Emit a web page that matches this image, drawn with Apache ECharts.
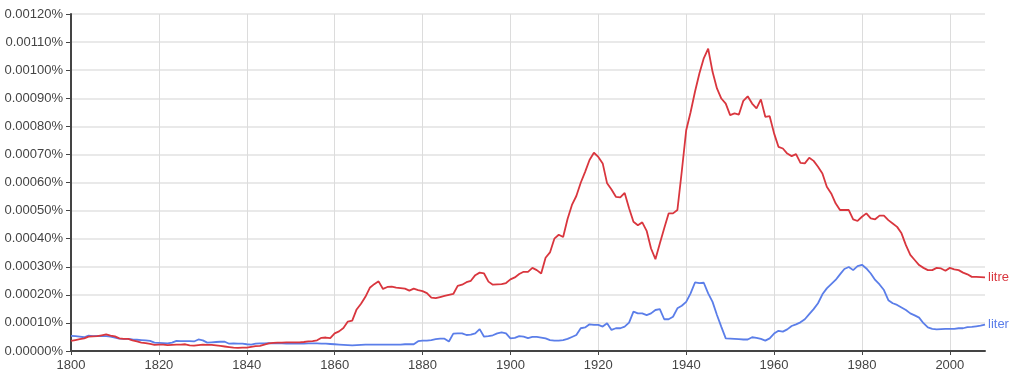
<!DOCTYPE html>
<html>
<head>
<meta charset="utf-8">
<script src="https://cdn.jsdelivr.net/npm/echarts@6/dist/echarts.min.js"></script>
<style>
html,body{margin:0;padding:0;background:#fff;}
#chart{width:1024px;height:376px;}
</style>
</head>
<body>
<div id="chart"></div>
<script>
// Years 1800..2008, values in units of 0.00001 %
const startYear = 1800;
const endYear = 2008;
const seriesNames = ["litre", "liter"];
const litre = [
  3.6, 3.9, 4.2, 4.5, 5.1, 5.2, 5.3, 5.6, 5.9, 5.5,
  5.2, 4.5, 4.3, 4.3, 3.8, 3.4, 3.0, 2.8, 2.5, 2.2,
  2.3, 2.3, 2.1, 2.2, 2.3, 2.3, 2.4, 2.0, 1.9, 2.1,
  2.3, 2.2, 2.2, 2.0, 1.8, 1.6, 1.4, 1.2, 1.1, 1.2,
  1.2, 1.5, 1.7, 1.8, 2.3, 2.7, 2.9, 3.0, 3.0, 3.1,
  3.1, 3.1, 3.1, 3.2, 3.4, 3.5, 3.8, 4.7, 4.8, 4.6,
  6.3, 7.0, 8.2, 10.5, 10.8, 14.8, 16.8, 19.3, 22.5, 23.8,
  24.8, 22.1, 22.8, 22.9, 22.6, 22.4, 22.2, 21.5, 22.2, 21.7,
  21.3, 20.6, 19.0, 18.8, 19.2, 19.6, 20.0, 20.3, 23.2, 23.6,
  24.5, 25.0, 27.0, 27.9, 27.6, 24.7, 23.6, 23.7, 23.8, 24.2,
  25.5, 26.2, 27.4, 28.2, 28.2, 29.6, 28.8, 27.6, 33.2, 35.1,
  40.0, 41.4, 40.6, 47.0, 52.0, 55.2, 59.9, 63.8, 68.0, 70.6,
  69.1, 66.8, 59.7, 57.5, 54.9, 54.7, 56.3, 50.8, 46.0, 44.8,
  45.8, 42.8, 36.5, 32.7, 38.3, 43.7, 49.0, 49.0, 50.2, 64.0,
  78.6, 85.0, 92.3, 98.8, 104.2, 107.7, 99.4, 93.5, 89.9, 88.1,
  84.0, 84.6, 84.2, 89.1, 90.7, 88.1, 86.4, 89.6, 83.4, 83.6,
  77.5, 72.7, 72.1, 70.3, 69.4, 70.1, 67.0, 66.8, 68.8, 67.7,
  65.6, 63.2, 58.5, 56.1, 52.6, 50.2, 50.2, 50.2, 46.9, 46.3,
  47.8, 49.0, 47.2, 46.9, 48.2, 48.2, 46.6, 45.4, 44.2, 41.9,
  37.7, 34.2, 32.4, 30.6, 29.6, 28.8, 28.8, 29.6, 29.4, 28.6,
  29.6, 29.1, 28.8, 27.9, 27.3, 26.4, 26.4, 26.3, 26.2
];
const liter = [
  5.4, 5.3, 5.1, 4.9, 5.5, 5.3, 5.4, 5.3, 5.3, 5.1,
  4.8, 4.4, 4.3, 4.3, 4.1, 4.0, 3.9, 3.8, 3.6, 3.0,
  2.9, 2.8, 2.7, 3.0, 3.6, 3.5, 3.5, 3.5, 3.4, 4.1,
  3.8, 3.0, 3.1, 3.2, 3.3, 3.3, 2.6, 2.7, 2.6, 2.6,
  2.4, 2.3, 2.6, 2.7, 2.7, 2.8, 2.7, 2.7, 2.7, 2.6,
  2.7, 2.6, 2.6, 2.6, 2.7, 2.7, 2.7, 2.6, 2.6, 2.5,
  2.4, 2.3, 2.2, 2.1, 2.0, 2.1, 2.2, 2.3, 2.3, 2.3,
  2.3, 2.3, 2.3, 2.3, 2.3, 2.3, 2.4, 2.4, 2.4, 3.5,
  3.7, 3.7, 3.9, 4.2, 4.4, 4.4, 3.4, 6.2, 6.3, 6.3,
  5.7, 5.8, 6.3, 7.8, 5.1, 5.3, 5.6, 6.3, 6.6, 6.3,
  4.5, 4.7, 5.3, 5.1, 4.6, 5.0, 5.0, 4.8, 4.5, 3.9,
  3.7, 3.7, 3.9, 4.3, 5.0, 5.7, 8.1, 8.4, 9.5, 9.3,
  9.3, 8.7, 9.9, 7.5, 8.1, 8.1, 8.7, 10.1, 14.0, 13.4,
  13.4, 12.8, 13.4, 14.6, 14.9, 11.3, 11.3, 12.2, 15.2, 16.1,
  17.5, 20.5, 24.4, 24.2, 24.3, 20.5, 17.5, 12.8, 8.6, 4.5,
  4.4, 4.3, 4.2, 4.1, 4.1, 4.9, 4.7, 4.3, 3.7, 4.5,
  6.2, 7.2, 6.9, 7.7, 8.9, 9.5, 10.2, 11.3, 13.1, 14.9,
  17.0, 20.2, 22.3, 23.8, 25.3, 27.3, 29.2, 29.9, 28.8, 30.2,
  30.7, 29.4, 27.6, 25.3, 23.7, 21.7, 18.1, 17.0, 16.4, 15.5,
  14.6, 13.4, 12.7, 11.9, 9.9, 8.4, 7.9, 7.7, 7.8, 7.9,
  7.9, 7.9, 8.1, 8.1, 8.5, 8.6, 8.8, 9.0, 9.4
];
const yMax = 120;      // 0.00120 %
const yInterval = 10;  // 0.00010 %
const xInterval = 20;

function pairs(arr){ return arr.map((v,i)=>[startYear+i, v]); }

const colors = ['#d9363e', '#5b7ee9'];
const chart = echarts.init(document.getElementById('chart'), null, {renderer:'canvas'});
const font = '"Liberation Sans", Arial, sans-serif';
chart.setOption({
  animation: false,
  backgroundColor: '#fff',
  grid: {left: 71, right: 39, top: 14, bottom: 25, containLabel: false},
  xAxis: {
    type: 'value', min: startYear, max: endYear, interval: xInterval,
    axisLine: {show: true, onZero: false, lineStyle: {color: '#444', width: 2}},
    axisTick: {show: true, length: 4, lineStyle: {color: '#444'}},
    axisLabel: {color: '#444', fontSize: 13, fontFamily: font, margin: 8, showMaxLabel: false,
      formatter: v => String(v)},
    splitLine: {show: true, showMinLine: false, showMaxLine: false, lineStyle: {color: '#dcdcdc', width: 1}}
  },
  yAxis: {
    type: 'value', min: 0, max: yMax, interval: yInterval,
    axisLine: {show: true, lineStyle: {color: '#444', width: 2}},
    axisTick: {show: true, length: 5, lineStyle: {color: '#444'}},
    axisLabel: {color: '#444', fontSize: 13, fontFamily: font, margin: 8,
      formatter: v => (v/100000).toFixed(5) + '%'},
    splitLine: {show: true, lineStyle: {color: '#e2e2e2', width: 1.5}}
  },
  series: [litre, liter].map((arr, i) => ({
    name: seriesNames[i],
    type: 'line',
    data: pairs(arr),
    showSymbol: false,
    symbol: 'none',
    lineStyle: {color: colors[i], width: 1.8},
    itemStyle: {color: colors[i]},
    endLabel: {show: true, formatter: seriesNames[i], color: colors[i],
      fontSize: 13, fontFamily: font, distance: 3},
    z: 3 - i
  }))
});
</script>
</body>
</html>
